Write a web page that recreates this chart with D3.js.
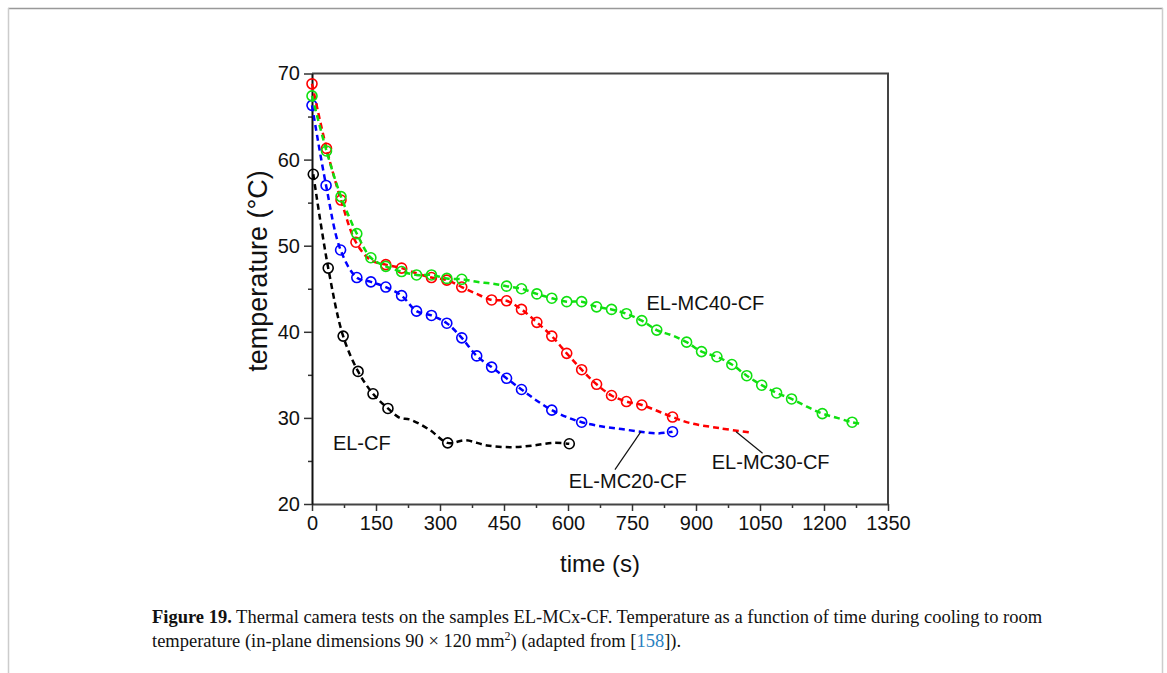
<!DOCTYPE html>
<html>
<head>
<meta charset="utf-8">
<script src="https://cdn.jsdelivr.net/npm/d3@7"></script>
<style>
  body { margin: 0; background: #fff; }
  svg { display: block; }
  .tick text { font-family: "Liberation Sans", Arial, sans-serif; }
</style>
</head>
<body>
<div id="chart"></div>
<script>
// [time (s), temperature (°C), marker shown?]
const elCF = [[3,58.3,1],[38,47.4,1],[73,39.5,1],[108,35.4,1],[143,32.8,1],[178,31.1,1],[206,30.0,0],[230,29.8,0],
  [276,28.6,0],[318,27.1,1],[360,27.4,0],[410,26.8,0],[470,26.6,0],[520,26.8,0],[565,27.1,0],[603,27.0,1]]

const elMC20 = [[0,66.3,1],[33,57.0,1],[67,49.5,1],[105,46.3,1],[138,45.8,1],[173,45.2,1],[210,44.2,1],[245,42.4,1],
  [280,41.9,1],[316,41.0,1],[351,39.3,1],[386,37.2,1],[421,35.9,1],[456,34.6,1],[491,33.3,1],[527,32.0,0],
  [562,30.9,1],[597,30.1,0],[632,29.5,1],[680,29.0,0],[725,28.7,0],[770,28.4,0],[810,28.2,0],[845,28.4,1]]

const elMC30 = [[0,68.8,1],[34,61.3,1],[68,55.3,1],[103,50.4,1],[138,48.3,0],[173,47.8,1],[210,47.4,1],[245,46.8,0],
  [280,46.3,1],[316,46.0,1],[351,45.2,1],[386,44.4,0],[421,43.7,1],[456,43.6,1],[491,42.6,1],[527,41.1,1],
  [562,39.5,1],[597,37.5,1],[632,35.6,1],[667,33.9,1],[702,32.6,1],[737,31.9,1],[773,31.5,1],[810,30.8,0],
  [845,30.1,1],[886,29.4,0],[956,28.8,0],[1027,28.3,0]]

const elMC40 = [[0,67.4,1],[34,61.0,1],[68,55.7,1],[105,51.4,1],[138,48.6,1],[173,47.6,1],[210,47.0,1],[245,46.6,1],
  [280,46.6,1],[316,46.2,1],[351,46.1,1],[386,45.8,0],[421,45.6,0],[456,45.3,1],[491,45.0,1],[527,44.4,1],
  [562,43.9,1],[597,43.5,1],[632,43.5,1],[667,42.9,1],[702,42.6,1],[737,42.1,1],[773,41.3,1],[808,40.2,1],
  [843,39.6,0],[878,38.8,1],[913,37.7,1],[949,37.1,1],[984,36.2,1],[1019,34.9,1],[1054,33.8,1],[1089,32.9,1],
  [1124,32.2,1],[1160,31.3,0],[1196,30.5,1],[1231,30.0,0],[1266,29.5,1],[1290,29.3,0]]

const xTicks = [0, 150, 300, 450, 600, 750, 900, 1050, 1200, 1350]
const yTicks = [20, 30, 40, 50, 60, 70]

const series = [
  { name: 'EL-CF', data: elCF, color: '#000000' },
  { name: 'EL-MC20-CF', data: elMC20, color: '#0000ff' },
  { name: 'EL-MC30-CF', data: elMC30, color: '#ff0000' },
  { name: 'EL-MC40-CF', data: elMC40, color: '#10e010' }
]

// label text, anchor point [t, T], optional leader line from [t, T] to [t, T]
const labels = [
  { text: 'EL-CF', at: [49, 27.1] },
  { text: 'EL-MC40-CF', at: [784, 43.4] },
  { text: 'EL-MC20-CF', at: [602, 22.7], lead: [[771, 28.4], [710, 24.0]] },
  { text: 'EL-MC30-CF', at: [937, 24.9], lead: [[994, 28.4], [1056, 25.9]] }
]

const width = 1167, height = 673
const margin = { top: 73.5, right: 279, bottom: 169, left: 312 }

const svg = d3.select('#chart').append('svg')
  .attr('width', width)
  .attr('height', height)

// page frame
svg.append('line').attr('x1', 8).attr('x2', 1163).attr('y1', 8.5).attr('y2', 8.5)
  .attr('stroke', '#999').attr('stroke-width', 1.5)
svg.append('line').attr('x1', 8.5).attr('x2', 8.5).attr('y1', 8).attr('y2', height)
  .attr('stroke', '#ccc').attr('stroke-width', 1.5)
svg.append('line').attr('x1', 1162.5).attr('x2', 1162.5).attr('y1', 8).attr('y2', height)
  .attr('stroke', '#ccc').attr('stroke-width', 1.5)

const x = d3.scaleLinear().domain([0, 1350]).range([margin.left, width - margin.right])
const y = d3.scaleLinear().domain([20, 70]).range([height - margin.bottom, margin.top])

// box top and right
svg.append('path')
  .attr('d', `M${x(0)},${y(70)}H${x(1350)}V${y(20)}`)
  .attr('fill', 'none')
  .attr('stroke', '#444')
  .attr('stroke-width', 2)

// minor ticks
const xAxisMinor = d3.axisBottom(x).tickValues(d3.range(75, 1350, 150)).tickSize(4).tickFormat('')
const yAxisMinor = d3.axisLeft(y).tickValues(d3.range(25, 70, 10)).tickSize(4).tickFormat('')

svg.append('g').attr('transform', `translate(0, ${y(20)})`).call(xAxisMinor)
  .call(g => g.select('.domain').remove())
  .selectAll('line').attr('stroke', '#333').attr('stroke-width', 1.5)
svg.append('g').attr('transform', `translate(${x(0)}, 0)`).call(yAxisMinor)
  .call(g => g.select('.domain').remove())
  .selectAll('line').attr('stroke', '#333').attr('stroke-width', 1.5)

const xAxis = d3.axisBottom(x).tickValues(xTicks).tickSize(7).tickSizeOuter(0).tickPadding(5)
  .tickFormat(d3.format('d'))
const yAxis = d3.axisLeft(y).tickValues(yTicks).tickSize(8).tickSizeOuter(0).tickPadding(4)
  .tickFormat(d3.format('d'))

const gx = svg.append('g').attr('transform', `translate(0, ${y(20)})`).call(xAxis)
gx.select('.domain').attr('stroke', '#444').attr('stroke-width', 2)
gx.selectAll('.tick line').attr('stroke', '#333').attr('stroke-width', 1.5)
gx.selectAll('.tick text').attr('font-size', 20).attr('fill', '#111')

const gy = svg.append('g').attr('transform', `translate(${x(0)}, 0)`).call(yAxis)
gy.select('.domain').attr('stroke', '#111').attr('stroke-width', 2)
gy.selectAll('.tick line').attr('stroke', '#333').attr('stroke-width', 1.5)
gy.selectAll('.tick text').attr('font-size', 20).attr('fill', '#111')

// axis titles
svg.append('text')
  .attr('x', x(675)).attr('y', 563)
  .attr('text-anchor', 'middle').attr('dominant-baseline', 'central')
  .style('font-family', '"Liberation Sans", Arial, sans-serif').style('font-size', '24px')
  .attr('fill', '#111')
  .text('time (s)')

svg.append('text')
  .attr('transform', `translate(258, 271) rotate(-90)`)
  .attr('text-anchor', 'middle').attr('dominant-baseline', 'central')
  .style('font-family', '"Liberation Sans", Arial, sans-serif').style('font-size', '27px')
  .attr('fill', '#111')
  .text('temperature (°C)')

// curves
const line = d3.line()
  .x(d => x(d[0]))
  .y(d => y(d[1]))
  .curve(d3.curveCatmullRom.alpha(0.5))

const gs = svg.selectAll('.series').data(series).enter().append('g').attr('class', 'series')

gs.append('path')
  .attr('d', d => line(d.data))
  .attr('fill', 'none')
  .attr('stroke', d => d.color)
  .attr('stroke-width', 2.5)
  .attr('stroke-dasharray', '6,4')

gs.each(function (s) {
  d3.select(this).selectAll('circle')
    .data(s.data.filter(d => d[2]))
    .enter()
    .append('circle')
    .attr('cx', d => x(d[0]))
    .attr('cy', d => y(d[1]))
    .attr('r', 5)
    .attr('fill', 'none')
    .attr('stroke', s.color)
    .attr('stroke-width', 1.6)
})

// labels
labels.forEach(l => {
  if (l.lead) {
    svg.append('line')
      .attr('x1', x(l.lead[0][0])).attr('y1', y(l.lead[0][1]))
      .attr('x2', x(l.lead[1][0])).attr('y2', y(l.lead[1][1]))
      .attr('stroke', '#111').attr('stroke-width', 1.2)
  }
  svg.append('text')
    .attr('x', x(l.at[0])).attr('y', y(l.at[1]))
    .attr('dominant-baseline', 'central')
    .style('font-family', '"Liberation Sans", Arial, sans-serif').style('font-size', '20px')
    .attr('fill', '#111')
    .text(l.text)
})

// caption
const cap = svg.append('g')
  .style('font-family', '"Liberation Serif", "Times New Roman", serif')
  .style('font-size', '18.5px')
  .attr('fill', '#111')

const line1 = cap.append('text').attr('x', 152).attr('y', 623)
line1.append('tspan').attr('font-weight', 'bold').text('Figure 19.')
line1.append('tspan').text(' Thermal camera tests on the samples EL-MCx-CF. Temperature as a function of time during cooling to room')

const line2 = cap.append('text').attr('x', 152).attr('y', 647)
line2.append('tspan').text('temperature (in-plane dimensions 90 × 120 mm')
line2.append('tspan').attr('dy', -7).style('font-size', '12px').text('2')
line2.append('tspan').attr('dy', 7).text(') (adapted from [')
line2.append('tspan').attr('fill', '#2a7fc0').text('158')
line2.append('tspan').text(']).')
</script>
</body>
</html>
